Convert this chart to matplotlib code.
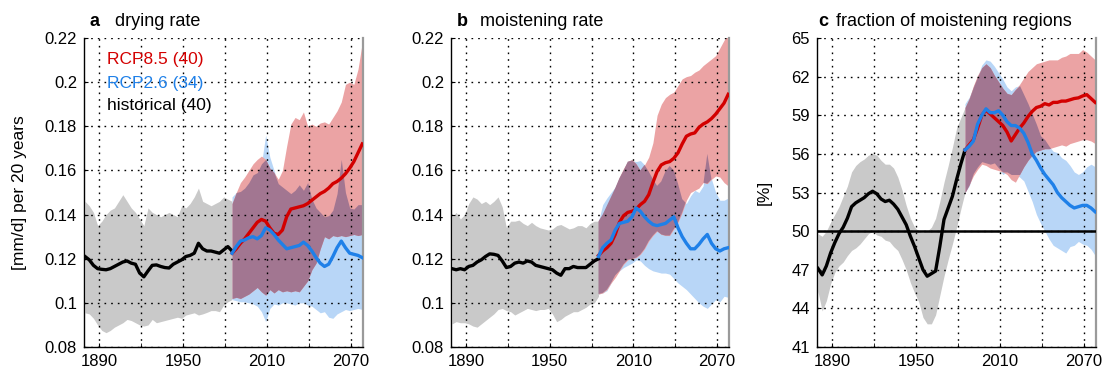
import numpy as np
import matplotlib
matplotlib.use("Agg")
import matplotlib.pyplot as plt
from matplotlib.ticker import FixedLocator, FuncFormatter

plt.rcParams.update({
    "font.family": ["Liberation Sans", "DejaVu Sans"],
    "font.size": 12,
})

# ---- years (historical to 1985, scenarios from 1985) ----
hist_years = [1880, 1883, 1886, 1889, 1892, 1895, 1898, 1901, 1904, 1907, 1910, 1913,
              1916, 1919, 1922, 1925, 1928, 1931, 1934, 1937, 1940, 1943, 1946, 1949,
              1952, 1955, 1958, 1961, 1964, 1967, 1970, 1973, 1976, 1979, 1982, 1985]
rcp_years = [1985, 1988, 1991, 1994, 1997, 2000, 2003, 2006, 2009, 2012, 2015, 2018,
             2021, 2024, 2027, 2030, 2033, 2036, 2039, 2042, 2045, 2048, 2051, 2054,
             2057, 2060, 2063, 2066, 2069, 2072, 2075, 2078]

# ---- a: drying rate ----
a_hist = [0.121, 0.1195, 0.117, 0.1155, 0.1152, 0.115, 0.1155, 0.1165, 0.1175, 0.1185, 0.119, 0.118,
          0.1175, 0.1135, 0.1118, 0.1145, 0.117, 0.1172, 0.1165, 0.116, 0.1158, 0.1175, 0.1185, 0.1195,
          0.121, 0.1215, 0.1225, 0.127, 0.1245, 0.1235, 0.1235, 0.123, 0.1225, 0.124, 0.1255, 0.1235]
a_hist_hi = [0.146, 0.144, 0.141, 0.135, 0.137, 0.140, 0.142, 0.143, 0.146, 0.149, 0.146, 0.143,
             0.141, 0.138, 0.135, 0.143, 0.141, 0.140, 0.139, 0.140, 0.141, 0.140, 0.139, 0.144,
             0.143, 0.145, 0.148, 0.152, 0.146, 0.145, 0.144, 0.145, 0.146, 0.148, 0.147, 0.146]
a_hist_lo = [0.0955, 0.095, 0.093, 0.090, 0.0875, 0.0865, 0.0875, 0.089, 0.090, 0.091, 0.0925, 0.092,
             0.091, 0.090, 0.0895, 0.090, 0.0925, 0.091, 0.0915, 0.092, 0.0925, 0.093, 0.0935, 0.093,
             0.0945, 0.095, 0.0955, 0.0945, 0.095, 0.0957, 0.0965, 0.0965, 0.096, 0.099, 0.1005, 0.1015]
a_r85 = [0.1225, 0.1245, 0.127, 0.129, 0.1315, 0.134, 0.1365, 0.1378, 0.137, 0.134, 0.1315, 0.131,
         0.133, 0.139, 0.1425, 0.143, 0.1435, 0.144, 0.145, 0.1465, 0.148, 0.1495, 0.1505, 0.152,
         0.154, 0.155, 0.1565, 0.1585, 0.161, 0.164, 0.168, 0.172]
a_r85_hi = [0.145, 0.150, 0.1545, 0.157, 0.160, 0.163, 0.165, 0.1665, 0.165, 0.161, 0.159, 0.156,
            0.160, 0.171, 0.181, 0.184, 0.183, 0.1865, 0.180, 0.181, 0.180, 0.1815, 0.182, 0.181,
            0.184, 0.187, 0.191, 0.199, 0.200, 0.199, 0.206, 0.218]
a_r85_lo = [0.102, 0.1025, 0.102, 0.103, 0.104, 0.1055, 0.107, 0.105, 0.1035, 0.106, 0.1045, 0.106,
            0.105, 0.1055, 0.105, 0.1055, 0.105, 0.1075, 0.110, 0.115, 0.118, 0.1245, 0.130, 0.129,
            0.1305, 0.130, 0.1305, 0.130, 0.1305, 0.131, 0.1305, 0.131]
a_r26 = [0.1225, 0.1255, 0.128, 0.1285, 0.1295, 0.130, 0.129, 0.1305, 0.134, 0.133, 0.131, 0.1285,
         0.1265, 0.1245, 0.125, 0.1255, 0.126, 0.1275, 0.126, 0.1235, 0.1205, 0.118, 0.1165, 0.1175,
         0.121, 0.125, 0.128, 0.125, 0.1225, 0.122, 0.1215, 0.1205]
a_r26_hi = [0.148, 0.150, 0.1505, 0.152, 0.1545, 0.158, 0.159, 0.163, 0.176, 0.166, 0.160, 0.154,
            0.1525, 0.151, 0.1495, 0.151, 0.1535, 0.151, 0.1545, 0.147, 0.143, 0.141, 0.139, 0.1395,
            0.142, 0.1495, 0.165, 0.150, 0.143, 0.1425, 0.1445, 0.1445]
a_r26_lo = [0.1015, 0.101, 0.1005, 0.1005, 0.100, 0.0995, 0.0985, 0.096, 0.0915, 0.0975, 0.0995, 0.099,
            0.100, 0.100, 0.0995, 0.099, 0.100, 0.100, 0.099, 0.0985, 0.097, 0.0955, 0.096, 0.0935,
            0.093, 0.095, 0.096, 0.097, 0.0965, 0.097, 0.0975, 0.097]

# ---- b: moistening rate ----
b_hist = [0.1155, 0.115, 0.1155, 0.115, 0.1165, 0.117, 0.1185, 0.1195, 0.121, 0.1222, 0.122, 0.1215,
          0.119, 0.116, 0.1165, 0.118, 0.1185, 0.118, 0.119, 0.1185, 0.117, 0.1165, 0.116, 0.1155,
          0.115, 0.1135, 0.1125, 0.1155, 0.1155, 0.1165, 0.116, 0.116, 0.116, 0.1175, 0.119, 0.120]
b_hist_hi = [0.139, 0.141, 0.138, 0.140, 0.145, 0.148, 0.147, 0.145, 0.146, 0.1445, 0.146, 0.148,
             0.1435, 0.134, 0.137, 0.137, 0.1375, 0.136, 0.135, 0.1365, 0.135, 0.134, 0.1335, 0.133,
             0.1335, 0.135, 0.1355, 0.1345, 0.1335, 0.134, 0.135, 0.135, 0.134, 0.136, 0.137, 0.137]
b_hist_lo = [0.0905, 0.0915, 0.091, 0.091, 0.0905, 0.0895, 0.089, 0.0905, 0.092, 0.0935, 0.095, 0.097,
             0.0975, 0.0965, 0.096, 0.0945, 0.0955, 0.0965, 0.0975, 0.097, 0.0965, 0.097, 0.097, 0.0975,
             0.095, 0.0915, 0.0925, 0.094, 0.095, 0.096, 0.096, 0.097, 0.098, 0.0995, 0.100, 0.103]
b_r85 = [0.1215, 0.1235, 0.125, 0.127, 0.131, 0.1365, 0.1395, 0.141, 0.1415, 0.1425, 0.1445, 0.146,
         0.149, 0.1545, 0.1595, 0.1625, 0.1635, 0.164, 0.1655, 0.168, 0.172, 0.1755, 0.1765, 0.177,
         0.1795, 0.181, 0.182, 0.1835, 0.1855, 0.188, 0.1905, 0.1945]
b_r85_hi = [0.137, 0.140, 0.144, 0.148, 0.152, 0.157, 0.161, 0.164, 0.165, 0.163, 0.160, 0.1625,
            0.166, 0.1725, 0.185, 0.190, 0.193, 0.1945, 0.1955, 0.1985, 0.2015, 0.2025, 0.203, 0.2045,
            0.2055, 0.2075, 0.209, 0.2105, 0.212, 0.2155, 0.219, 0.222]
b_r85_lo = [0.104, 0.1045, 0.106, 0.109, 0.1115, 0.1145, 0.1175, 0.1195, 0.120, 0.1205, 0.122, 0.1245,
            0.128, 0.1305, 0.1325, 0.131, 0.1305, 0.1305, 0.1335, 0.1365, 0.141, 0.1465, 0.150, 0.151,
            0.152, 0.1545, 0.154, 0.156, 0.1575, 0.157, 0.1545, 0.153]
b_r26 = [0.121, 0.125, 0.127, 0.1285, 0.133, 0.136, 0.1365, 0.137, 0.139, 0.143, 0.1415, 0.139,
         0.137, 0.1355, 0.135, 0.1355, 0.136, 0.1375, 0.139, 0.134, 0.130, 0.127, 0.1245, 0.1245,
         0.1265, 0.129, 0.131, 0.127, 0.1245, 0.1235, 0.1245, 0.125]
b_r26_hi = [0.137, 0.1445, 0.1475, 0.150, 0.1525, 0.1565, 0.160, 0.164, 0.1645, 0.164, 0.1645, 0.1625,
            0.1595, 0.156, 0.153, 0.155, 0.1595, 0.162, 0.160, 0.154, 0.147, 0.145, 0.1485, 0.151,
            0.150, 0.153, 0.1675, 0.156, 0.150, 0.1465, 0.1465, 0.1475]
b_r26_lo = [0.104, 0.1045, 0.1055, 0.109, 0.1125, 0.1145, 0.116, 0.117, 0.118, 0.1195, 0.119, 0.117,
            0.1155, 0.1145, 0.114, 0.1135, 0.1135, 0.113, 0.111, 0.109, 0.1075, 0.106, 0.104, 0.102,
            0.100, 0.0985, 0.0975, 0.0995, 0.1015, 0.1005, 0.103, 0.1025]

# ---- c: fraction of moistening regions [%] ----
c_hist = [47.1, 46.6, 47.3, 48.3, 49.1, 49.8, 50.3, 51.0, 51.9, 52.2, 52.4, 52.6,
          52.9, 53.1, 52.9, 52.5, 52.3, 52.4, 52.1, 51.7, 51.1, 50.5, 49.6, 48.8,
          47.9, 47.0, 46.5, 46.7, 46.9, 48.8, 50.9, 51.8, 52.7, 54.0, 55.2, 56.3]
c_hist_hi = [49.8, 49.6, 50.0, 50.7, 51.3, 51.9, 52.7, 53.5, 54.6, 55.1, 55.4, 55.6,
             55.9, 56.0, 55.9, 55.5, 55.2, 55.2, 54.9, 54.2, 53.2, 52.0, 51.0, 50.3,
             50.0, 49.9, 50.0, 50.3, 51.0, 52.3, 53.8, 55.1, 56.5, 58.0, 58.8, 59.6]
c_hist_lo = [45.3, 43.8, 44.6, 45.9, 46.8, 47.3, 47.6, 48.1, 48.5, 48.7, 49.0, 49.4,
             49.8, 50.0, 49.7, 49.6, 49.3, 49.2, 48.8, 48.5, 47.8, 47.0, 46.0, 45.2,
             44.5, 43.3, 42.8, 42.8, 43.5, 45.0, 46.5, 47.8, 49.0, 50.3, 51.7, 53.0]
c_r85 = [56.3, 56.7, 57.1, 58.0, 59.0, 59.4, 59.1, 58.8, 58.5, 58.2, 57.7, 57.0,
         57.5, 58.0, 58.4, 58.9, 59.3, 59.6, 59.7, 59.9, 59.8, 60.0, 60.0, 60.1,
         60.1, 60.2, 60.3, 60.35, 60.5, 60.6, 60.3, 60.0]
c_r85_hi = [59.6, 60.3, 61.3, 62.1, 62.7, 63.0, 62.7, 62.1, 61.6, 61.1, 60.7, 60.6,
            61.0, 61.4, 61.9, 62.4, 62.7, 63.0, 63.1, 63.2, 63.3, 63.3, 63.3, 63.5,
            63.6, 63.8, 63.8, 63.8, 64.1, 63.9, 63.6, 63.3]
c_r85_lo = [53.0, 53.6, 54.3, 54.8, 55.2, 55.1, 54.9, 54.8, 54.7, 54.6, 54.4, 54.0,
            53.8, 54.4, 55.0, 55.5, 55.9, 56.2, 56.3, 56.4, 56.4, 56.5, 56.6, 56.7,
            56.6, 56.8, 56.9, 57.0, 57.1, 57.1, 57.0, 56.8]
c_r26 = [56.3, 56.6, 57.0, 58.3, 59.0, 59.5, 59.2, 59.2, 59.35, 59.0, 58.5, 58.2,
         58.2, 58.0, 57.6, 56.9, 56.0, 55.5, 54.9, 54.4, 54.0, 53.6, 53.0, 52.6,
         52.3, 52.0, 51.8, 51.9, 52.0, 52.0, 51.8, 51.5]
c_r26_hi = [59.9, 60.4, 61.2, 62.0, 62.9, 63.3, 63.2, 62.8, 62.3, 61.8, 61.2, 60.9,
            61.2, 61.3, 60.6, 59.9, 59.1, 58.3, 57.4, 57.1, 56.6, 56.2, 56.1, 55.7,
            55.5, 55.1, 54.6, 54.4, 54.6, 55.0, 55.2, 55.0]
c_r26_lo = [53.0, 53.5, 54.5, 55.0, 55.4, 55.3, 55.2, 55.3, 54.9, 54.4, 54.6, 54.4,
            54.4, 54.2, 53.9, 53.1, 52.3, 51.3, 50.6, 50.0, 49.4, 48.9, 48.7, 48.5,
            48.3, 48.8, 48.9, 49.2, 49.0, 48.9, 48.6, 48.1]

GREY_FILL = "#c9c9c9"
RED_FILL = "#eba3a4"
BLUE_FILL = "#b8d6f7"
MIX_FILL = "#a27691"
RED = "#d30000"
BLUE = "#1f80e8"

fig = plt.figure(figsize=(11.06, 3.8), dpi=100)
boxes = [[0.0760, 0.0868, 0.2523, 0.8132],
         [0.4078, 0.0868, 0.2514, 0.8132],
         [0.7387, 0.0868, 0.2523, 0.8132]]


def panel(rect, hist, hlo, hhi, r85, r85lo, r85hi, r26, r26lo, r26hi):
    ax = fig.add_axes(rect)
    hy, ry = np.array(hist_years), np.array(rcp_years)
    r85lo, r85hi = np.array(r85lo), np.array(r85hi)
    r26lo, r26hi = np.array(r26lo), np.array(r26hi)
    ax.fill_between(hy, hlo, hhi, color=GREY_FILL, lw=0, zorder=1)
    ax.fill_between(ry, r26lo, r26hi, color=BLUE_FILL, lw=0, zorder=1)
    ax.fill_between(ry, r85lo, r85hi, color=RED_FILL, lw=0, zorder=1.1)
    # overlap of the two scenario spreads
    lo = np.maximum(r85lo, r26lo)
    hi = np.minimum(r85hi, r26hi)
    ax.fill_between(ry, lo, hi, where=hi > lo, interpolate=True,
                    color=MIX_FILL, lw=0, zorder=1.2)
    ax.plot(hy, hist, color="k", lw=2.4, zorder=3)
    ax.plot(ry, r85, color=RED, lw=2.4, zorder=3)
    ax.plot(ry, r26, color=BLUE, lw=2.4, zorder=3.1)

    ax.set_xlim(1879.3, 2078.6)
    ax.xaxis.set_major_locator(FixedLocator([1890, 1950, 2010, 2070]))
    ax.xaxis.set_minor_locator(FixedLocator([1920, 1980, 2040]))
    ax.set_axisbelow(False)
    ax.grid(True, which="both", color="k", lw=1.0, linestyle=(0, (1.2, 3.6)))
    ax.tick_params(which="both", direction="in", length=3, top=False, right=False,
                   labelsize=12, pad=5)
    for s in ("left", "bottom"):
        ax.spines[s].set_color("k")
        ax.spines[s].set_linewidth(1.0)
    ax.spines["top"].set_visible(False)
    ax.spines["right"].set_color("#9a9a9a")
    ax.spines["right"].set_linewidth(1.6)
    return ax


def title(ax, letter, text, dx):
    ax.text(0.004 if letter == "c" else 0.02, 1.039, letter, transform=ax.transAxes,
            fontsize=13, fontweight="bold", va="baseline", ha="left")
    ax.text(dx, 1.039, text, transform=ax.transAxes, fontsize=13,
            va="baseline", ha="left")


rate_fmt = FuncFormatter(lambda v, p: f"{v:.2f}".rstrip("0"))

ax_a = panel(boxes[0], a_hist, a_hist_lo, a_hist_hi, a_r85, a_r85_lo, a_r85_hi,
             a_r26, a_r26_lo, a_r26_hi)
ax_b = panel(boxes[1], b_hist, b_hist_lo, b_hist_hi, b_r85, b_r85_lo, b_r85_hi,
             b_r26, b_r26_lo, b_r26_hi)
ax_c = panel(boxes[2], c_hist, c_hist_lo, c_hist_hi, c_r85, c_r85_lo, c_r85_hi,
             c_r26, c_r26_lo, c_r26_hi)

for ax in (ax_a, ax_b):
    ax.set_ylim(0.08, 0.22)
    ax.yaxis.set_major_locator(FixedLocator([0.08, 0.10, 0.12, 0.14, 0.16, 0.18, 0.20, 0.22]))
    ax.yaxis.set_major_formatter(rate_fmt)

ax_c.set_ylim(41, 65)
ax_c.yaxis.set_major_locator(FixedLocator([41, 44, 47, 50, 53, 56, 59, 62, 65]))
ax_c.axhline(50, color="k", lw=1.8, zorder=2.6)

ax_a.set_ylabel("[mm/d] per 20 years", fontsize=12.5)
ax_a.yaxis.set_label_coords(-0.205, 0.5)
ax_c.set_ylabel("[%]", fontsize=12.5)
ax_c.yaxis.set_label_coords(-0.161, 0.5)

title(ax_a, "a", "drying rate", 0.111)
title(ax_b, "b", "moistening rate", 0.104)
title(ax_c, "c", "fraction of moistening regions", 0.068)

ax_a.text(0.082, 0.929, "RCP8.5 (40)", color=RED, transform=ax_a.transAxes,
          fontsize=12.5, va="center", zorder=5)
ax_a.text(0.082, 0.854, "RCP2.6 (34)", color=BLUE, transform=ax_a.transAxes,
          fontsize=12.5, va="center", zorder=5)
ax_a.text(0.082, 0.783, "historical (40)", color="k", transform=ax_a.transAxes,
          fontsize=12.5, va="center", zorder=5)

fig.savefig("out.png", dpi=100, facecolor="white")
